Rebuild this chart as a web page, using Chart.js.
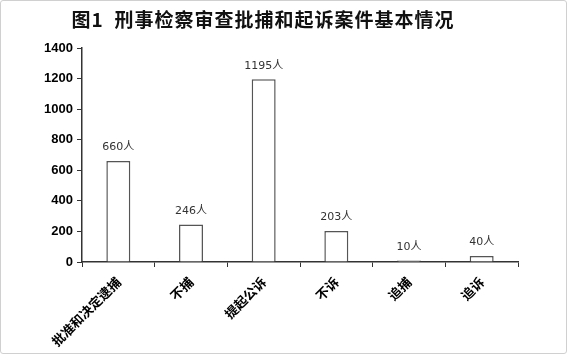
<!DOCTYPE html>
<html><head><meta charset="utf-8">
<script src="https://cdn.jsdelivr.net/npm/chart.js@4"></script>
<style>
html,body{margin:0;padding:0;background:#fff;}
#wrap{position:absolute;left:0;top:0;width:567px;height:354px;box-sizing:border-box;border:1px solid #d0d0d0;border-radius:3px;}
canvas{position:absolute;left:0;top:0;}
</style></head>
<body><div id="wrap"></div><canvas id="c" width="567" height="354"></canvas>
<script>
const titleText = '图1  刑事检察审查批捕和起诉案件基本情况';
const categories = ['批准和决定逮捕','不捕','提起公诉','不诉','追捕','追诉'];
const values = [660, 246, 1195, 203, 10, 40];
const valueUnit = '人';
const yTicks = [0,200,400,600,800,1000,1200,1400];

const labelPlugin = {
  id:'labels',
  afterDatasetsDraw(chart){
    const ctx = chart.ctx;
    const meta = chart.getDatasetMeta(0);
    ctx.save();
    ctx.font = '11px "DejaVu Sans", "Noto Sans CJK SC"';
    ctx.fillStyle = '#333';
    ctx.textAlign = 'center';
    ctx.textBaseline = 'bottom';
    meta.data.forEach((bar,i)=>{
      ctx.fillText(values[i] + valueUnit, bar.x, bar.y - 8);
    });
    ctx.restore();
  }
};
const titlePlugin = {
  id:'ttl',
  afterDraw(chart){
    const ctx = chart.ctx;
    ctx.save();
    ctx.font = 'bold 19px "Noto Sans CJK SC"';
    try { ctx.letterSpacing = '1px'; } catch(e){}
    ctx.fillStyle = '#111';
    ctx.textAlign = 'center';
    ctx.textBaseline = 'middle';
    ctx.fillText(titleText, 263, 20);
    ctx.restore();
  }
};

new Chart(document.getElementById('c'), {
  type:'bar',
  data:{labels:categories, datasets:[{data:values, backgroundColor:'#fff', borderColor:'#555', borderWidth:1.5, categoryPercentage:1, barPercentage:0.33}]},
  options:{
    responsive:false, animation:false,
    layout:{padding:{left:0,right:49,top:48,bottom:0}},
    plugins:{legend:{display:false}, tooltip:{enabled:false}},
    scales:{
      x:{
        grid:{display:true, drawOnChartArea:false, drawTicks:true, tickLength:5, color:'#333', offset:true},
        border:{display:true, color:'#333', width:1.5},
        ticks:{minRotation:45, maxRotation:45, color:'#000', padding:7, font:{family:'"Noto Sans CJK SC"', size:13, weight:'bold'}},
        afterFit(s){ s.height = 92; }
      },
      y:{
        min:0, max:1400,
        afterBuildTicks(s){ s.ticks = yTicks.map(v=>({value:v})); },
        grid:{display:true, drawOnChartArea:false, drawTicks:true, tickLength:5, color:'#333'},
        border:{display:true, color:'#333', width:1.5},
        ticks:{color:'#000', padding:4, callback:(v)=>String(v), font:{family:'"Liberation Sans"', size:13, weight:'bold'}},
        afterFit(s){ s.width = 82; }
      }
    }
  },
  plugins:[labelPlugin, titlePlugin]
});
</script></body></html>
